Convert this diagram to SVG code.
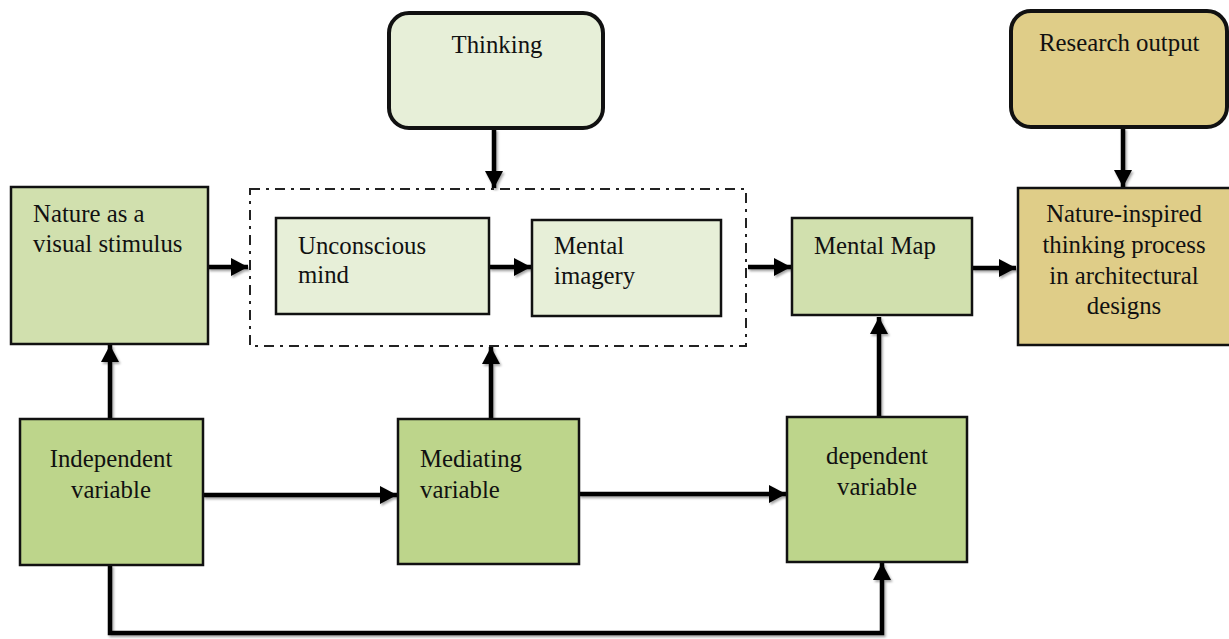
<svg xmlns="http://www.w3.org/2000/svg" width="1229" height="639" viewBox="0 0 1229 639">
<style>
text{font-family:"Liberation Serif","Times New Roman",serif;font-size:24.8px;fill:#111}
.box{stroke:#111;stroke-width:2.5}
.rbox{stroke:#111;stroke-width:4}
.g1{fill:#d1e0ae}
.g2{fill:#e7efd8}
.g3{fill:#bdd58b}
.tan{fill:#dfcd88}
.ln{fill:none;stroke:#000;stroke-width:4.5}
.c{text-anchor:middle}
</style>
<defs>
<marker id="ah" markerUnits="userSpaceOnUse" markerWidth="20" markerHeight="18" refX="17" refY="9" orient="auto">
<path d="M0,0 L17,9 L0,18 Z" fill="#000"/>
</marker>
<filter id="sh" x="-20%" y="-20%" width="140%" height="140%">
<feDropShadow dx="1.5" dy="2" stdDeviation="1.2" flood-color="#000" flood-opacity="0.35"/>
</filter>
</defs>
<rect width="1229" height="639" fill="#fff"/>

<g id="connectors" filter="url(#sh)">
<line class="ln" x1="208" y1="267" x2="248" y2="267" marker-end="url(#ah)"/>
<line class="ln" x1="489" y1="267" x2="531" y2="267" marker-end="url(#ah)"/>
<line class="ln" x1="748" y1="267" x2="791" y2="267" marker-end="url(#ah)"/>
<line class="ln" x1="972" y1="268" x2="1016" y2="268" marker-end="url(#ah)"/>
<line class="ln" x1="494" y1="129" x2="494" y2="188" marker-end="url(#ah)"/>
<line class="ln" x1="1123" y1="128" x2="1123" y2="187" marker-end="url(#ah)"/>
<line class="ln" x1="110" y1="419" x2="110" y2="345" marker-end="url(#ah)"/>
<line class="ln" x1="491" y1="419" x2="491" y2="347" marker-end="url(#ah)"/>
<line class="ln" x1="879" y1="417" x2="879" y2="317" marker-end="url(#ah)"/>
<line class="ln" x1="203" y1="495" x2="397" y2="495" marker-end="url(#ah)"/>
<line class="ln" x1="579" y1="494" x2="786" y2="494" marker-end="url(#ah)"/>
<polyline class="ln" points="110,565 110,633 882,633 882,563" marker-end="url(#ah)"/>
</g>

<g id="group-thinking-process">
<rect x="250" y="189" width="496" height="157" fill="none" stroke="#222" stroke-width="2" stroke-dasharray="10 6 3 6"/>
</g>

<g id="nature-stimulus">
<rect class="box g1" x="11" y="187" width="197" height="157"/>
<text x="33" y="222">Nature as a</text>
<text x="33" y="252">visual stimulus</text>
</g>

<g id="thinking">
<rect class="rbox g2" x="389" y="13" width="214" height="115" rx="20"/>
<text class="c" x="497" y="53">Thinking</text>
</g>

<g id="unconscious-mind">
<rect class="box g2" x="276" y="218" width="213" height="96"/>
<text x="298" y="254">Unconscious</text>
<text x="298" y="283">mind</text>
</g>

<g id="mental-imagery">
<rect class="box g2" x="532" y="220" width="189" height="96"/>
<text x="554" y="254">Mental</text>
<text x="554" y="284">imagery</text>
</g>

<g id="mental-map">
<rect class="box g1" x="792" y="218" width="180" height="97"/>
<text x="814" y="254">Mental Map</text>
</g>

<g id="research-output">
<rect class="rbox tan" x="1011" y="11" width="216" height="116" rx="20"/>
<text x="1039" y="51">Research output</text>
</g>

<g id="nature-inspired">
<rect class="box tan" x="1018" y="188" width="220" height="157"/>
<text class="c" x="1124" y="222">Nature-inspired</text>
<text class="c" x="1124" y="253">thinking process</text>
<text class="c" x="1124" y="284">in architectural</text>
<text class="c" x="1124" y="314">designs</text>
</g>

<g id="independent-variable">
<rect class="box g3" x="20" y="419" width="183" height="146"/>
<text class="c" x="111" y="467">Independent</text>
<text class="c" x="111" y="498">variable</text>
</g>

<g id="mediating-variable">
<rect class="box g3" x="398" y="419" width="181" height="145"/>
<text x="420" y="467">Mediating</text>
<text x="420" y="498">variable</text>
</g>

<g id="dependent-variable">
<rect class="box g3" x="787" y="417" width="180" height="145"/>
<text class="c" x="877" y="464">dependent</text>
<text class="c" x="877" y="495">variable</text>
</g>
</svg>
